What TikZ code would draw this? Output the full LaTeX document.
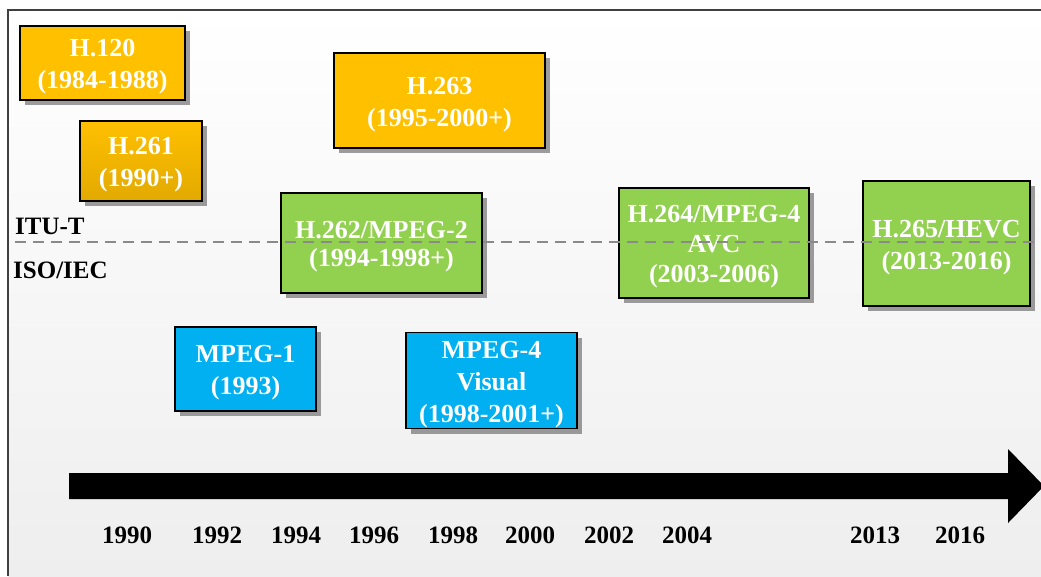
\documentclass[tikz,border=0pt]{standalone}
\usepackage{fontspec}
\setmainfont{Liberation Serif}
\usetikzlibrary{shadows}
\definecolor{itu}{HTML}{FFC000}
\definecolor{itudark}{HTML}{E2A900}
\definecolor{joint}{HTML}{92D050}
\definecolor{iso}{HTML}{00B0F0}
\definecolor{framegray}{HTML}{404040}
\definecolor{dashgray}{HTML}{8A8A8A}
\definecolor{bgbottom}{HTML}{EEEEEE}
\newcommand\boxtext[1]{\raisebox{-3.5pt}[\height][\depth]{\begin{tabular}{@{}c@{}}#1\end{tabular}}}
\tikzset{
  stdbox/.style={draw=black, line width=1.6pt, text=white,
    font=\bfseries\fontsize{26}{32}\selectfont, inner sep=0pt,
    drop shadow={shadow xshift=5pt, shadow yshift=-5pt, fill=black!55, opacity=0.7}},
  itubox/.style={stdbox, fill=itu},
  jointbox/.style={stdbox, fill=joint},
  isobox/.style={stdbox, fill=iso},
  yearlbl/.style={font=\bfseries\fontsize{25}{30}\selectfont, text=black, inner sep=0pt},
  orglbl/.style={font=\bfseries\fontsize{25}{30}\selectfont, text=black, inner sep=0pt, anchor=west},
  divider/.style={draw=dashgray, line width=1.6pt, dash pattern=on 11pt off 7pt},
  framestyle/.style={draw=framegray, line width=1.5pt}
}
\begin{document}
\begin{tikzpicture}[x=1pt,y=-1pt]
\useasboundingbox (0,0) rectangle (1041,576);
\fill[white] (0,0) rectangle (1041,576);
\shade[top color=white, bottom color=bgbottom] (8,10) rectangle (1041,576);
\draw[framestyle] (8,576) -- (8,10) -- (1045,10);

% ITU-T boxes
\node[itubox, minimum width=165pt, minimum height=74pt] (h120) at (102.5,63) {\boxtext{H.120\\(1984-1988)}};
\node[stdbox, top color=itu, bottom color=itudark, minimum width=122pt, minimum height=80pt] (h261) at (141,161) {\boxtext{H.261\\(1990+)}};
\node[itubox, minimum width=211pt, minimum height=95pt] (h263) at (439.5,100.5) {\boxtext{H.263\\(1995-2000+)}};

% joint boxes
\node[jointbox, minimum width=201pt, minimum height=100pt] (h262) at (381.5,243) {\boxtext{H.262/MPEG-2\\[-4pt](1994-1998+)}};
\node[jointbox, minimum width=190pt, minimum height=110pt] (h264) at (714,243) {\boxtext{H.264/MPEG-4\\[-2pt]AVC\\[-2pt](2003-2006)}};
\node[jointbox, minimum width=167pt, minimum height=125pt] (h265) at (946.5,243.5) {\boxtext{H.265/HEVC\\(2013-2016)}};

% ISO boxes
\node[isobox, minimum width=141pt, minimum height=84pt] (mpeg1) at (245.5,369) {\boxtext{MPEG-1\\(1993)}};
\node[isobox, minimum width=171pt, minimum height=95pt] (mpeg4) at (491.5,380.5) {\boxtext{MPEG-4\\Visual\\(1998-2001+)}};

% organisation labels and divider
\node[orglbl] (itut) at (15,226) {ITU-T};
\node[orglbl] (isoiec) at (13,270) {ISO/IEC};
\coordinate (dl) at (15,242);
\coordinate (dr) at (1041,242);
\draw[divider] (dl) -- (dr);

% time axis arrow
\fill[black] (69,473) -- (1008,473) -- (1008,449) -- (1044,486) -- (1008,523) -- (1008,499) -- (69,499) -- cycle;

% years
\node[yearlbl] (y1990) at (127,535) {1990};
\node[yearlbl] (y1992) at (217,535) {1992};
\node[yearlbl] (y1994) at (296,535) {1994};
\node[yearlbl] (y1996) at (374,535) {1996};
\node[yearlbl] (y1998) at (453,535) {1998};
\node[yearlbl] (y2000) at (530,535) {2000};
\node[yearlbl] (y2002) at (609,535) {2002};
\node[yearlbl] (y2004) at (687,535) {2004};
\node[yearlbl] (y2013) at (875,535) {2013};
\node[yearlbl] (y2016) at (960,535) {2016};
\end{tikzpicture}
\end{document}
